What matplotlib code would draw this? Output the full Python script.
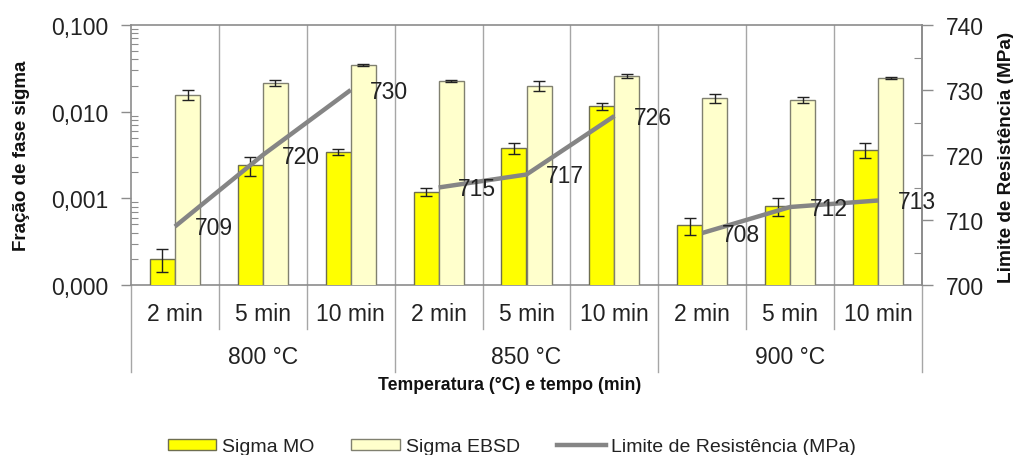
import matplotlib
matplotlib.use("Agg")
import matplotlib.pyplot as plt
import numpy as np
from matplotlib.patches import Patch
from matplotlib.lines import Line2D
from matplotlib.ticker import FixedLocator, NullFormatter, LogLocator

plt.rcParams['font.family'] = ['Liberation Sans', 'DejaVu Sans']

# ---------------- data ----------------
temperatures = ["800 °C", "850 °C", "900 °C"]
times = ["2 min", "5 min", "10 min"]
sigma_mo = [0.0002, 0.00243, 0.00343, 0.00119, 0.0038, 0.0116, 0.00049, 0.00082, 0.0036]
sigma_mo_err = [0.00006, 0.0006, 0.0003, 0.00012, 0.00055, 0.0011, 0.00011, 0.0002, 0.0007]
sigma_ebsd = [0.0156, 0.0214, 0.0346, 0.0226, 0.0198, 0.0258, 0.0144, 0.0136, 0.0245]
sigma_ebsd_err = [0.002, 0.0017, 0.0012, 0.0008, 0.0026, 0.0015, 0.0017, 0.0011, 0.0005]
limite = [709, 720, 730, 715, 717, 726, 708, 712, 713]
left_ticks = [0.0001, 0.001, 0.01, 0.1]
left_ticklabels = ["0,000", "0,001", "0,010", "0,100"]
right_ticks = [700, 710, 720, 730, 740]

# ---------------- figure ----------------
W, H = 1013, 456
fig = plt.figure(figsize=(W / 100, H / 100), dpi=100)
x0, x1, y0, y1 = 131, 922, 26, 286
ax = fig.add_axes([x0 / W, 1 - y1 / H, (x1 - x0) / W, (y1 - y0) / H])
ax2 = ax.twinx()

n = len(sigma_mo)
x = np.arange(n)
bw = 0.285
off = 0.143
gray = '#8c8c8c'
grid_c = '#a6a6a6'

ax.bar(x - off, sigma_mo, bw, color='#ffff00', edgecolor='#6e6e50', linewidth=1.0,
       yerr=sigma_mo_err, error_kw=dict(ecolor='#222222', elinewidth=1.0, capsize=4, capthick=1.0),
       zorder=3)
ax.bar(x + off, sigma_ebsd, bw, color='#ffffcc', edgecolor='#808070', linewidth=1.0,
       yerr=sigma_ebsd_err, error_kw=dict(ecolor='#222222', elinewidth=1.0, capsize=4, capthick=1.0),
       zorder=3)

ax.set_yscale('log')
ax.set_ylim(0.0001, 0.1)
ax.set_xlim(-0.5, n - 0.5)
ax.yaxis.set_major_locator(FixedLocator(left_ticks))
ax.set_yticklabels(left_ticklabels)
ax.yaxis.set_minor_locator(LogLocator(base=10, subs=np.arange(2, 10)))
ax.yaxis.set_minor_formatter(NullFormatter())
ax.tick_params(axis='y', which='major', direction='out', length=7, width=1, color=gray,
               labelsize=16.5, pad=9, labelcolor='#222222')
ax.tick_params(axis='y', which='minor', direction='in', length=5, width=0.8, color=gray)
ax.set_xticks([])

for s in ax.spines.values():
    s.set_color(gray)
    s.set_linewidth(1.2)
for s in ax2.spines.values():
    s.set_visible(False)

# vertical separators inside plot
for b in np.arange(0.5, n - 0.5, 1.0):
    ax.axvline(b, color=grid_c, linewidth=1.0, zorder=1)

# separators below axis
trans = ax.get_xaxis_transform()
for i, b in enumerate(np.arange(-0.5, n, 1.0)):
    if i % 3 == 0:
        ax.plot([b, b], [0, -87 / 260], transform=trans, color=grid_c, lw=1.0, clip_on=False)
    else:
        ax.plot([b, b], [0, -44 / 260], transform=trans, color=grid_c, lw=1.0, clip_on=False)

for i in range(n):
    ax.text(i, -29 / 260, times[i % 3], transform=trans, ha='center', va='center',
            fontsize=16.5, color='#222222')
for g, t in enumerate(temperatures):
    ax.text(3 * g + 1, -72 / 260, t, transform=trans, ha='center', va='center',
            fontsize=16.5, color='#222222')
fig.text(510 / W, 1 - 386 / H, "Temperatura (°C) e tempo (min)",
         ha='center', va='center', fontsize=12.7, fontweight='bold', color='#111111')

fig.text(22 / W, 1 - 156 / H, "Fração de fase sigma", rotation=90, ha='center', va='center',
         fontsize=13.5, fontweight='bold', color='#111111')
fig.text(1006 / W, 1 - 157 / H, "Limite de Resistência (MPa)", rotation=90, ha='center',
         va='center', fontsize=13.7, fontweight='bold', color='#111111')

# right axis line
ax2.set_ylim(700, 740)
ax2.yaxis.set_major_locator(FixedLocator(right_ticks))
ax2.yaxis.set_minor_locator(FixedLocator([705, 715, 725, 735]))
ax2.tick_params(axis='y', which='major', direction='out', length=8, width=1, color=gray,
                labelsize=16.5, pad=9, labelcolor='#222222')
ax2.tick_params(axis='y', which='minor', direction='in', length=6, width=0.8, color=gray)
ax2.spines['right'].set_visible(True)
ax2.spines['right'].set_color(gray)
ax2.spines['right'].set_linewidth(1.2)

for g in range(3):
    xs = x[3 * g:3 * g + 3]
    ys = limite[3 * g:3 * g + 3]
    ax2.plot(xs, ys, color='#858585', linewidth=3.2, solid_capstyle='butt', zorder=4)
    for xi, yi in zip(xs, ys):
        ax2.annotate(str(yi), (xi, yi), xytext=(14, -1), textcoords='offset points',
                     ha='left', va='center', fontsize=16.5, color='#222222', zorder=5)

handles = [Patch(facecolor='#ffff00', edgecolor='#6e6e50', linewidth=1.0),
           Patch(facecolor='#ffffcc', edgecolor='#808070', linewidth=1.0),
           Line2D([0], [0], color='#858585', linewidth=3.2)]
labels = ["Sigma MO", "Sigma EBSD", "Limite de Resistência (MPa)"]
fig.legend(handles, labels, loc='center', bbox_to_anchor=(512 / W, 1 - 448 / H), ncol=3,
           frameon=False, fontsize=14, handlelength=2.5, handleheight=0.55,
           handletextpad=0.3, columnspacing=1.9, labelcolor='#222222')

fig.savefig("out.png", dpi=100)
